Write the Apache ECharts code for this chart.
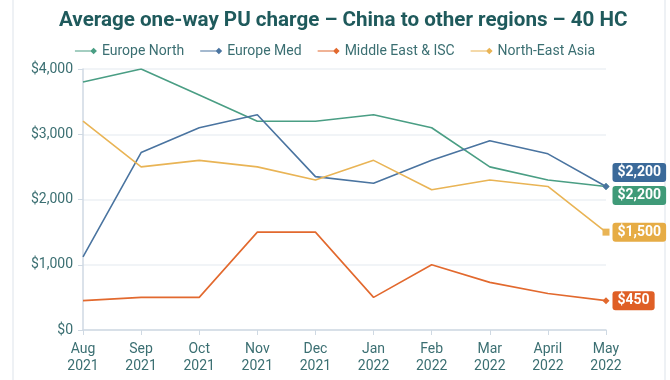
<!DOCTYPE html>
<html><head><meta charset="utf-8">
<script src="https://cdn.jsdelivr.net/npm/echarts@6/dist/echarts.min.js"></script>
<style>html,body{margin:0;padding:0;background:#fff}#c{width:670px;height:380px}</style>
</head><body><div id="c"></div>
<script>
const categories = ['Aug\n2021','Sep\n2021','Oct\n2021','Nov\n2021','Dec\n2021','Jan\n2022','Feb\n2022','Mar\n2022','April\n2022','May\n2022'];
const europeNorth = [3800,4000,3600,3200,3200,3300,3100,2500,2300,2200];
const europeMed = [1120,2720,3100,3300,2350,2250,2600,2900,2700,2200];
const middleEast = [450,500,500,1500,1500,500,1000,730,560,450];
const neAsia = [3200,2500,2600,2500,2300,2600,2150,2300,2200,1500];
const yTicks = [0,1000,2000,3000,4000];

const txt = '#3b6f72';
const legIcon = 'path://M0,3.4H18V4.6H0Z M18,0.8L21.2,4L18,7.2L14.8,4Z';
function mk(name, data, color, symbol, labelColor, offY) {
  return {
    name, type: 'line', data: data.map((v,i)=> i===data.length-1 ? {value:v, symbol:symbol, symbolSize:7,
      label:{show:true, position:'right', distance:3, offset:[0,offY], formatter: p=>'$'+p.value.toLocaleString('en-US'),
        backgroundColor:labelColor, color:'#fff', fontSize:14, fontWeight:'bold', fontFamily:'Roboto',
        padding:[3,5,2,5], borderRadius:3}} : {value:v}),
    showSymbol: true, symbol:'none', lineStyle:{color, width:1.6}, itemStyle:{color},
    z: 2
  };
}
const chart = echarts.init(document.getElementById('c'));
chart.setOption({
  animation:false,
  textStyle:{fontFamily:'Roboto'},
  graphic:[{type:'rect', shape:{x:13,y:-5,width:652,height:400}, style:{fill:'none', stroke:'#dde3ea', lineWidth:1}, z:-1}],
  title:{text:'Average one-way PU charge \u2013 China to other regions \u2013 40 HC', left:54, top:5,
    textStyle:{fontSize:20.6, fontWeight:'bold', color:'#1f5a5c', fontFamily:'Roboto'}},
  legend:{top:39, left:'center', itemWidth:22, itemHeight:8, itemGap:16,
    textStyle:{fontSize:14, color:txt, fontFamily:'Roboto'},
    data:[{name:'Europe North', icon:legIcon},{name:'Europe Med', icon:legIcon},{name:'Middle East & ISC', icon:legIcon},{name:'North-East Asia', icon:legIcon}]},
  grid:{left:83, right:64, top:69, bottom:50, containLabel:false},
  xAxis:{type:'category', data:categories, boundaryGap:false,
    axisLine:{lineStyle:{color:'#cfd9e3', width:1.5}}, axisTick:{show:true, length:5, lineStyle:{color:'#cfd9e3'}},
    axisLabel:{color:txt, fontSize:14, lineHeight:17, margin:11}},
  yAxis:{type:'value', min:0, max:4000, interval:1000,
    axisLine:{show:true, lineStyle:{color:'#cfd9e3', width:1.5}}, axisTick:{show:true, length:5, lineStyle:{color:'#cfd9e3'}},
    splitLine:{lineStyle:{color:'#edf1f5', width:1.5}},
    axisLabel:{color:txt, fontSize:14, margin:10, formatter:v=>'$'+v.toLocaleString('en-US')}},
  series:[
    mk('Europe North', europeNorth, '#4a9e84', 'diamond', '#3f9a78', 9),
    mk('Europe Med', europeMed, '#4a74a0', 'diamond', '#3b6a9a', -14),
    mk('Middle East & ISC', middleEast, '#e2692e', 'diamond', '#df5f26', 0),
    mk('North-East Asia', neAsia, '#e9b455', 'rect', '#e6ac45', 0)
  ]
});
</script></body></html>
